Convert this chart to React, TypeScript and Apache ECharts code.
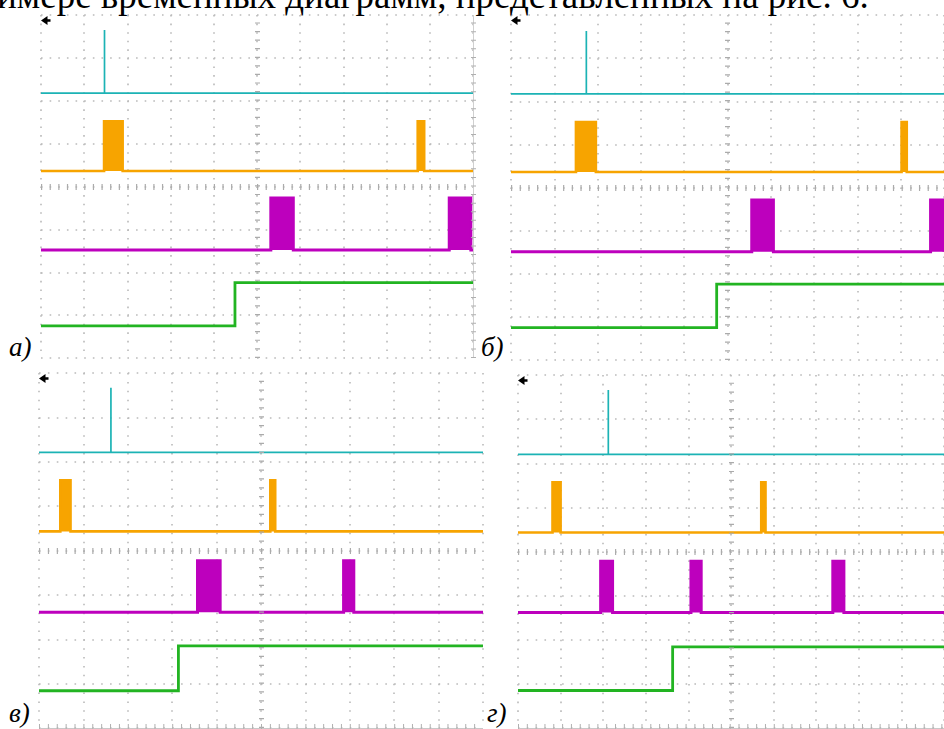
import React, { useEffect, useRef } from "react";
import * as echarts from "echarts";

// ---------- data (units: oscilloscope divisions; x 0..10, y 0..8) ----------
const panelLabels = ["а)", "б)", "в)", "г)"];
const captionText = "имере временных диаграмм, представленных на рис. 6.";

const cyanBase = [6.18, 6.17, 6.21, 6.2];
const cyanSpikeX = [1.47, 1.74, 1.62, 2.12];
const cyanSpikeTop = [7.65, 7.63, 7.67, 7.66];

const orangeBase = [4.36, 4.36, 4.43, 4.43];
const orangeHigh = [5.52, 5.52, 5.58, 5.57];
const orangePulses = [
  [[1.46, 1.89], [8.72, 8.87]],
  [[1.5, 1.96], [9.02, 9.14]],
  [[0.48, 0.71], [5.21, 5.32]],
  [[0.81, 1.0], [5.71, 5.81]],
];

const magentaBase = [2.52, 2.51, 2.61, 2.62];
const magentaHigh = [3.73, 3.71, 3.77, 3.78];
const magentaPulses = [
  [[5.32, 5.84], [9.45, 9.95]],
  [[5.56, 6.06], [9.69, 10]],
  [[3.57, 4.08], [6.86, 7.09]],
  [[1.94, 2.22], [4.06, 4.3], [7.39, 7.65]],
];

const greenLow = [0.75, 0.75, 0.84, 0.85];
const greenHigh = [1.76, 1.76, 1.85, 1.84];
const greenStepX = [4.49, 4.75, 3.14, 3.63];

// ---------- layout / style ----------
const W = 944;
const H = 729;
const panels = [
  { left: 41, top: 15, width: 432, height: 343, label: [9, 333], rightTicks: true, bottomTicks: false },
  { left: 511, top: 15, width: 434, height: 345, label: [481, 333], rightTicks: false, bottomTicks: false },
  { left: 39, top: 373, width: 444, height: 355, label: [9, 699], rightTicks: false, bottomTicks: true },
  { left: 518, top: 375, width: 441, height: 353, label: [487, 699], rightTicks: false, bottomTicks: true },
];
const C_CYAN = "#1cb3b5";
const C_ORANGE = "#f7a400";
const C_MAGENTA = "#bd00bd";
const C_GREEN = "#22b422";
const C_GRID = "#bababa";
const X_DIV = 10;
const Y_DIV = 8;
const SERIF = "Liberation Serif";

function pulseTrace(base: number, high: number, pulses: number[][]) {
  const pts: number[][] = [[0, base]];
  pulses.forEach(([a, b]) => {
    pts.push([a, base], [a, high], [b, high], [b, base]);
  });
  pts.push([X_DIV, base]);
  return pts;
}

function buildOption() {
  const grid: any[] = [];
  const xAxis: any[] = [];
  const yAxis: any[] = [];
  const series: any[] = [];
  const graphic: any[] = [];
  const title: any[] = [];

  panels.forEach((p, i) => {
    const dx = p.width / X_DIV / 5;
    const dy = p.height / Y_DIV / 5;
    grid.push({ left: p.left, top: p.top, width: p.width, height: p.height, containLabel: false });
    xAxis.push({
      type: "value", gridIndex: i, min: 0, max: X_DIV, interval: 1,
      axisLine: { show: false }, axisTick: { show: false }, axisLabel: { show: false },
      splitLine: { show: true, lineStyle: { color: C_GRID, width: 1.6, type: [1.6, dy - 1.6] } },
    });
    yAxis.push({
      type: "value", gridIndex: i, min: 0, max: Y_DIV, interval: 1,
      axisLine: { show: false }, axisTick: { show: false }, axisLabel: { show: false },
      splitLine: { show: true, lineStyle: { color: C_GRID, width: 1.6, type: [1.6, dx - 1.6] } },
    });

    const ml: any[] = [
      { yAxis: Y_DIV / 2, lineStyle: { color: "#ababab", width: 6, type: [1.2, dx - 1.2] } },
      { xAxis: X_DIV / 2, lineStyle: { color: "#ababab", width: 5, type: [1.2, dy - 1.2] } },
    ];
    if (p.rightTicks) {
      ml.push({ xAxis: X_DIV, lineStyle: { color: "#d0d0d0", width: 1, type: "solid" } });
      ml.push({ xAxis: X_DIV, lineStyle: { color: "#b0b0b0", width: 5, type: [1, dy - 1] } });
    }
    if (p.bottomTicks) {
      ml.push({ yAxis: 0, lineStyle: { color: "#c8c8c8", width: 1, type: "solid" } });
      ml.push({ yAxis: 0.03, lineStyle: { color: "#b0b0b0", width: 6, type: [1, dx - 1] } });
    }

    const common = {
      type: "line", xAxisIndex: i, yAxisIndex: i, showSymbol: false, silent: true, z: 3,
    };
    series.push({
      ...common,
      data: [[0, cyanBase[i]], [cyanSpikeX[i], cyanBase[i]], [cyanSpikeX[i], cyanSpikeTop[i]],
        [cyanSpikeX[i], cyanBase[i]], [X_DIV, cyanBase[i]]],
      lineStyle: { color: C_CYAN, width: 1.7, join: "miter", cap: "butt" },
      markLine: { silent: true, symbol: "none", label: { show: false }, animation: false, data: ml },
    });
    series.push({
      ...common,
      data: pulseTrace(orangeBase[i], orangeHigh[i], orangePulses[i]),
      lineStyle: { color: C_ORANGE, width: 2.6, join: "miter", cap: "butt" },
      areaStyle: { color: C_ORANGE, opacity: 1, origin: orangeBase[i] },
    });
    series.push({
      ...common,
      data: pulseTrace(magentaBase[i], magentaHigh[i], magentaPulses[i]),
      lineStyle: { color: C_MAGENTA, width: 3, join: "miter", cap: "butt" },
      areaStyle: { color: C_MAGENTA, opacity: 1, origin: magentaBase[i] },
    });
    series.push({
      ...common,
      data: [[0, greenLow[i]], [greenStepX[i], greenLow[i]], [greenStepX[i], greenHigh[i]], [X_DIV, greenHigh[i]]],
      lineStyle: { color: C_GREEN, width: 2.8, join: "miter", cap: "butt" },
    });

    graphic.push({
      type: "polygon", x: p.left, y: p.top + 1, silent: true, z: 10,
      shape: { points: [[0, 4.5], [6.5, 0], [6.5, 3.2], [9.5, 3.2], [9.5, 5.8], [6.5, 5.8], [6.5, 9]] },
      style: { fill: "#000" },
    });
    title.push({
      text: panelLabels[i], left: p.label[0], top: p.label[1], padding: 0,
      textStyle: { color: "#000", fontFamily: SERIF, fontStyle: "italic", fontWeight: "normal", fontSize: 27 },
    });
  });

  title.push({
    text: captionText, left: -3, top: -23, padding: 0,
    textStyle: { color: "#000", fontFamily: SERIF, fontWeight: "normal", fontSize: 37 },
  });

  return {
    animation: false,
    backgroundColor: "#ffffff",
    title, grid, xAxis, yAxis, series, graphic,
  };
}

export default function App() {
  const ref = useRef<HTMLDivElement>(null);
  useEffect(() => {
    if (!ref.current) return;
    const chart = echarts.init(ref.current, undefined, { renderer: "svg", width: W, height: H });
    chart.setOption(buildOption() as any);
    return () => chart.dispose();
  }, []);
  return (
    <div
      ref={ref}
      style={{ position: "fixed", left: 0, top: 0, width: W, height: H, background: "#fff" }}
    />
  );
}
